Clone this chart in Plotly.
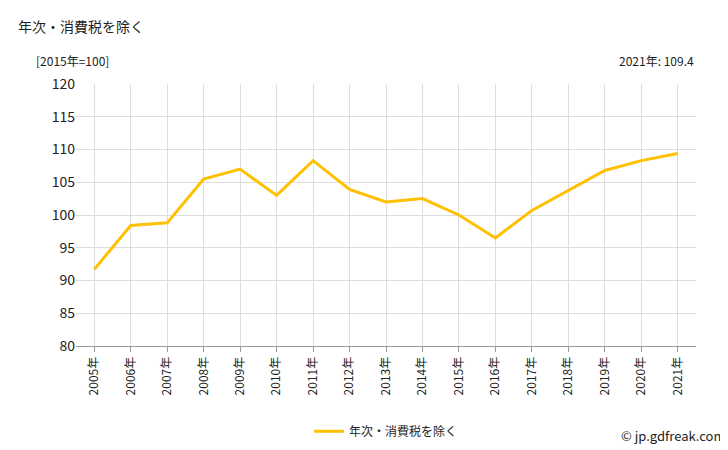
import plotly.graph_objects as go

years = [f"{y}年" for y in range(2005, 2022)]
values = [91.7, 98.4, 98.8, 105.5, 107.0, 103.0, 108.3, 103.9, 102.0, 102.5, 100.0, 96.5, 100.7, 103.7, 106.8, 108.3, 109.4]
series_name = "年次・消費税を除く"

fig = go.Figure(go.Scatter(x=years, y=values, mode="lines", name=series_name,
                           line=dict(color="#FFC000", width=3)))
font = "Noto Sans CJK JP"
fig.update_layout(
    width=728, height=450, paper_bgcolor="white", plot_bgcolor="white",
    margin=dict(l=68, r=40, t=76, b=98),
    font=dict(family=font, size=13, color="#222"),
    showlegend=True,
    legend=dict(orientation="h", x=0.5, xanchor="center", y=-0.27, yanchor="top", font=dict(size=12)),
    xaxis=dict(tickangle=-90, showgrid=True, gridcolor="#ddd", showline=True, linecolor="#999",
               ticks="outside", tickcolor="#999", tickfont=dict(size=12), range=[-0.5, 16.5]),
    yaxis=dict(range=[80, 120], dtick=5, showgrid=True, gridcolor="#ddd", tickfont=dict(size=14),
               showline=False, zeroline=False),
    annotations=[
        dict(text="年次・消費税を除く", x=0, y=1, xref="paper", yref="paper", xshift=-60, yshift=70,
             showarrow=False, xanchor="left", yanchor="top", font=dict(size=14)),
        dict(text="[2015年=100]", x=0, y=1, xref="paper", yref="paper", xshift=-42, yshift=34,
             showarrow=False, xanchor="left", yanchor="top", font=dict(size=12)),
        dict(text="2021年: 109.4", x=1, y=1, xref="paper", yref="paper", yshift=34, xshift=0,
             showarrow=False, xanchor="right", yanchor="top", font=dict(size=12)),
        dict(text="© jp.gdfreak.com", x=1, y=0, xref="paper", yref="paper", yshift=-78, xshift=32,
             showarrow=False, xanchor="right", yanchor="top", font=dict(size=13)),
    ],
)
fig.write_html("out.html")
